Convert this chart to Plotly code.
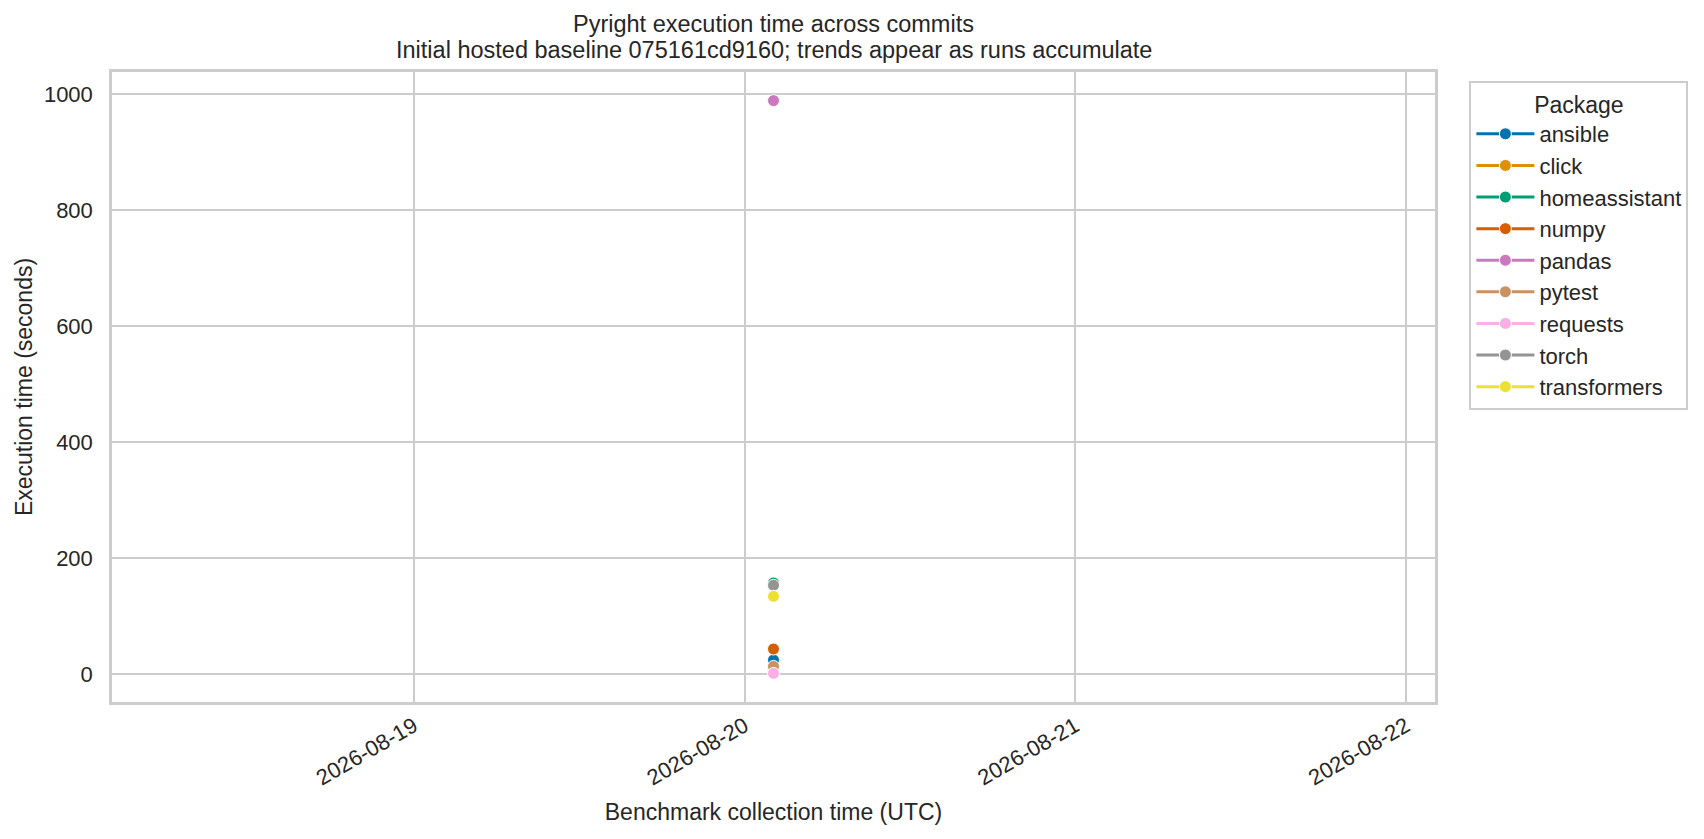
import pandas as pd
import plotly.graph_objects as go

# one hosted run so far: every package sits on the same timestamp
run_times = ["2026-08-20 02:06:00"]
packages = ["ansible", "click", "homeassistant", "numpy", "pandas",
            "pytest", "requests", "torch", "transformers"]
seconds = {
    "ansible": [24],
    "click": [6],
    "homeassistant": [157],
    "numpy": [43],
    "pandas": [989],
    "pytest": [13],
    "requests": [1],
    "torch": [153],
    "transformers": [134],
}
palette = ["#0173b2", "#de8f05", "#029e73", "#d55e00", "#cc78bc",
           "#ca9161", "#fbafe4", "#949494", "#ece133"]
title_lines = ["Pyright execution time across commits",
               "Initial hosted baseline 075161cd9160; trends appear as runs accumulate"]

x = pd.to_datetime(run_times)

fig = go.Figure()
for name, col in zip(packages, palette):
    fig.add_trace(go.Scatter(
        x=x, y=seconds[name], name=name, mode="lines+markers",
        line=dict(color=col, width=3),
        marker=dict(color=col, size=12, line=dict(color="white", width=1)),
        legendgroup=name,
    ))

# matplotlib-ish autoscale: +-2 days for a single date, 5% y margin
allv = [v for name in packages for v in seconds[name]]
lo, hi = min(allv), max(allv)
pad = (hi - lo) * 0.05
xlo = x.min() - pd.Timedelta(days=2)
xhi = x.max() + pd.Timedelta(days=2)

grid = "#cccccc"
txt = "#262626"
font = "Liberation Sans, Arial, sans-serif"

fig.update_layout(
    width=1704, height=839,
    margin=dict(l=112, r=269, t=72, b=137),
    paper_bgcolor="white", plot_bgcolor="white",
    font=dict(family=font, size=22, color=txt),
    showlegend=True,
    legend=dict(
        title=dict(text="Package", side="top center", font=dict(size=23)),
        x=1.026, y=0.9855, xanchor="left", yanchor="top",
        bordercolor=grid, borderwidth=2, bgcolor="white",
        font=dict(size=22), tracegroupgap=3, traceorder="normal",
        itemwidth=58,
    ),
)
# two title lines placed separately (matplotlib-like tight spacing)
for line, shift in zip(title_lines, [48, 22]):
    fig.add_annotation(
        text=line, x=0.5, xref="paper", xanchor="center",
        y=1, yref="paper", yanchor="middle", yshift=shift,
        showarrow=False, font=dict(size=23.5, color=txt),
    )
fig.update_xaxes(
    range=[xlo, xhi], dtick=86400000, tick0="2026-08-19",
    tickformat="%Y-%m-%d", tickangle=-30,
    showgrid=True, gridcolor=grid, gridwidth=2,
    showline=True, linecolor=grid, linewidth=2.5, mirror=True,
    ticks="", zeroline=False,
    title=dict(text="Benchmark collection time (UTC)", font=dict(size=23), standoff=15),
)
fig.update_yaxes(
    range=[lo - pad, hi + pad], dtick=200, tick0=0,
    showgrid=True, gridcolor=grid, gridwidth=2,
    showline=True, linecolor=grid, linewidth=2.5, mirror=True,
    ticks="", zeroline=False, ticklabelstandoff=12,
    title=dict(text="Execution time (seconds)", font=dict(size=23), standoff=5),
)

# drop the page's default body margin so the figure sits at the window corner
fig.write_html("out.html", config={"displayModeBar": False},
               post_script="document.body.style.margin='0';")
